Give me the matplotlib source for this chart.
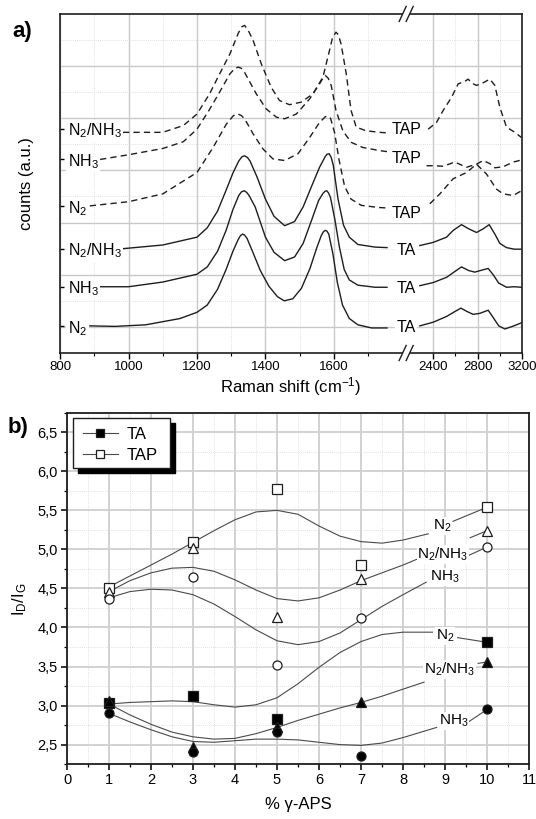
import numpy as np
import matplotlib
matplotlib.use('Agg')
import matplotlib.pyplot as plt
from matplotlib.patches import Rectangle
from matplotlib.ticker import MultipleLocator, FixedLocator, FuncFormatter, NullFormatter

plt.rcParams['font.family'] = ['Liberation Sans', 'DejaVu Sans']
plt.rcParams['mathtext.fontset'] = 'custom'
plt.rcParams['mathtext.rm'] = 'Liberation Sans'
plt.rcParams['mathtext.it'] = 'Liberation Sans:italic'
plt.rcParams['mathtext.bf'] = 'Liberation Sans:bold'
plt.rcParams['mathtext.default'] = 'rm'

# ---------------- panel a: Raman spectra (offset, a.u.) ----------------
ta_n2_x = [887, 960, 1050, 1150, 1200, 1230, 1260, 1285, 1305, 1320, 1327, 1333, 1339, 1346, 1362, 1385,
           1410, 1435, 1455, 1480, 1505, 1530, 1550, 1563, 1569, 1574, 1579, 1585, 1597, 1610, 1625, 1645,
           1670, 1710, 1755,
           2280, 2400, 2520, 2600, 2650, 2700, 2760, 2820, 2895, 2940, 2990, 3045, 3100, 3150, 3195]
ta_n2_y = [0.52, 0.51, 0.54, 0.66, 0.78, 0.92, 1.22, 1.60, 1.95, 2.17, 2.25, 2.28, 2.26, 2.20, 1.95, 1.58,
           1.28, 1.08, 1.00, 1.04, 1.24, 1.62, 2.02, 2.25, 2.32, 2.35, 2.34, 2.28, 1.90, 1.35, 0.92, 0.66,
           0.54, 0.48, 0.48,
           0.52, 0.59, 0.70, 0.80, 0.86, 0.80, 0.74, 0.76, 0.82, 0.68, 0.52, 0.46, 0.50, 0.54, 0.58]

ta_nh3_x = [917, 1000, 1100, 1200, 1230, 1260, 1285, 1305, 1322, 1330, 1338, 1345, 1352, 1370, 1400, 1425,
            1456, 1485, 1510, 1535, 1555, 1568, 1574, 1579, 1584, 1590, 1603, 1616, 1630, 1645, 1670, 1720,
            1755,
            2280, 2400, 2520, 2600, 2655, 2720, 2775, 2840, 2895, 2940, 2990, 3060, 3130, 3195]
ta_nh3_y = [1.27, 1.27, 1.36, 1.51, 1.65, 1.95, 2.35, 2.75, 3.02, 3.09, 3.11, 3.08, 3.02, 2.80, 2.22, 1.93,
            1.77, 1.84, 2.10, 2.55, 2.92, 3.06, 3.10, 3.11, 3.07, 2.98, 2.55, 2.03, 1.60, 1.40, 1.30, 1.26,
            1.26,
            1.29, 1.35, 1.45, 1.57, 1.65, 1.58, 1.55, 1.59, 1.62, 1.50, 1.34, 1.26, 1.27, 1.26]

ta_n2nh3_x = [984, 1100, 1200, 1230, 1260, 1285, 1305, 1322, 1331, 1339, 1347, 1355, 1375, 1400, 1425,
              1456, 1485, 1510, 1535, 1558, 1574, 1580, 1586, 1592, 1598, 1612, 1628, 1645, 1670, 1720, 1755,
              2280, 2400, 2520, 2580, 2655, 2720, 2790, 2850, 2904, 2955, 3000, 3060, 3130, 3195]
ta_n2nh3_y = [2.00, 2.07, 2.22, 2.40, 2.72, 3.12, 3.45, 3.68, 3.76, 3.78, 3.75, 3.68, 3.38, 2.95, 2.62,
              2.44, 2.52, 2.80, 3.20, 3.56, 3.76, 3.81, 3.82, 3.75, 3.60, 2.95, 2.45, 2.22, 2.08, 2.03, 2.02,
              2.06, 2.12, 2.22, 2.35, 2.46, 2.38, 2.31, 2.38, 2.46, 2.28, 2.10, 2.02, 1.99, 1.99]

tap_n2_x = [887, 1000, 1100, 1200, 1247, 1286, 1305, 1313, 1320, 1330, 1340, 1364, 1393, 1422, 1456, 1495,
            1529, 1558, 1575, 1582, 1590, 1602, 1615, 1631, 1650, 1680, 1730, 1755,
            2370, 2460, 2580, 2700, 2790, 2880, 2970, 3030, 3120, 3195]
tap_n2_y = [2.82, 2.90, 3.05, 3.46, 3.94, 4.39, 4.54, 4.58, 4.58, 4.55, 4.48, 4.20, 3.91, 3.72, 3.69, 3.82,
            4.13, 4.42, 4.53, 4.54, 4.50, 4.22, 3.70, 3.20, 2.95, 2.83, 2.79, 2.78,
            2.86, 3.05, 3.34, 3.46, 3.62, 3.43, 3.14, 3.05, 3.02, 3.11]

tap_nh3_x = [917, 1000, 1100, 1160, 1200, 1235, 1266, 1296, 1310, 1320, 1329, 1339, 1373, 1402, 1432, 1456,
             1490, 1529, 1558, 1568, 1575, 1583, 1592, 1606, 1626, 1650, 1684, 1733, 1755,
             2340, 2400, 2490, 2595, 2700, 2790, 2850, 2910, 2955, 3030, 3120, 3195]
tap_nh3_y = [3.71, 3.80, 3.92, 4.05, 4.29, 4.65, 5.00, 5.35, 5.45, 5.48, 5.46, 5.38, 4.97, 4.68, 4.52, 4.49,
             4.58, 4.87, 5.16, 5.27, 5.32, 5.27, 5.13, 4.65, 4.26, 4.04, 3.94, 3.88, 3.86,
             3.59, 3.59, 3.58, 3.66, 3.56, 3.62, 3.69, 3.63, 3.55, 3.57, 3.66, 3.70]

tap_n2nh3_x = [984, 1100, 1160, 1200, 1237, 1266, 1296, 1320, 1330, 1339, 1350, 1364, 1388, 1417, 1441,
               1470, 1505, 1539, 1568, 1587, 1596, 1606, 1613, 1621, 1636, 1650, 1665, 1694, 1733, 1755,
               2355, 2430, 2490, 2565, 2625, 2680, 2715, 2750, 2790, 2850, 2910, 2955, 3000, 3060, 3135, 3195]
tap_n2nh3_y = [4.23, 4.23, 4.36, 4.58, 4.97, 5.35, 5.73, 6.12, 6.25, 6.28, 6.18, 5.99, 5.54, 5.09, 4.84,
               4.76, 4.81, 4.97, 5.29, 5.80, 6.05, 6.15, 6.10, 5.92, 5.35, 4.65, 4.33, 4.26, 4.23, 4.22,
               4.29, 4.42, 4.65, 4.90, 5.16, 5.20, 5.25, 5.17, 5.13, 5.18, 5.25, 5.13, 4.71, 4.33, 4.23, 4.13]

gas_labels = ['N$_2$', 'NH$_3$', 'N$_2$/NH$_3$']
ta_offsets = [0.52, 1.27, 2.00]
tap_offsets = [2.82, 3.72, 4.30]
tap_tag_y = [2.70, 3.76, 4.32]

# ---------------- panel b: I_D/I_G vs % gamma-APS ----------------
pct = [1, 3, 5, 7, 10]
pct_ta_n2 = [1, 3, 5, 10]
ta_n2_ratio = [3.03, 3.12, 2.83, 3.81]
ta_n2nh3_ratio = [3.06, 2.47, 2.72, 3.04, 3.56]
ta_nh3_ratio = [2.91, 2.41, 2.66, 2.35, 2.95]
tap_n2_ratio = [4.50, 5.09, 5.78, 4.80, 5.54]
tap_n2nh3_ratio = [4.46, 5.02, 4.13, 4.62, 5.24]
tap_nh3_ratio = [4.37, 4.65, 3.52, 4.12, 5.03]

# smooth guide curves
fit_x = [1, 1.5, 2, 2.5, 3, 3.5, 4, 4.5, 5, 5.5, 6, 6.5, 7, 7.5, 8]
tap_n2_fit = [4.52, 4.66, 4.80, 4.94, 5.09, 5.24, 5.38, 5.48, 5.50, 5.45, 5.30, 5.17, 5.10, 5.08, 5.12]
tap_n2nh3_fit = [4.46, 4.60, 4.70, 4.76, 4.77, 4.72, 4.61, 4.48, 4.37, 4.34, 4.38, 4.48, 4.60, 4.70, 4.80]
tap_nh3_fit = [4.38, 4.46, 4.49, 4.48, 4.42, 4.30, 4.14, 3.97, 3.83, 3.78, 3.82, 3.93, 4.10, 4.27, 4.42]
ta_n2_fit = [3.02, 3.04, 3.05, 3.06, 3.05, 3.01, 2.98, 3.01, 3.10, 3.28, 3.49, 3.68, 3.82, 3.91, 3.94]
ta_n2nh3_fit = [3.02, 2.88, 2.76, 2.66, 2.60, 2.57, 2.58, 2.64, 2.72, 2.81, 2.89, 2.97, 3.04, 3.12, 3.21]
ta_nh3_fit = [2.90, 2.79, 2.69, 2.60, 2.54, 2.53, 2.55, 2.57, 2.57, 2.56, 2.53, 2.50, 2.49, 2.52, 2.59]
# last point before the label, label position, start of the connector to x = 10
tap_n2_end = [8.6, 5.20]
tap_n2nh3_end = [8.4, 4.89]
tap_nh3_end = [8.55, 4.58]
ta_n2_end = [8.7, 3.94]
ta_n2nh3_end = [8.5, 3.30]
ta_nh3_end = [8.8, 2.72]
tap_n2_tag = [8.93, 5.33, 9.19, 5.36]
tap_n2nh3_tag = [8.95, 4.96, 9.55, 4.92]
tap_nh3_tag = [9.0, 4.68, 9.6, 5.15]
ta_n2_tag = [9.0, 3.92, 9.3, 3.87]
ta_n2nh3_tag = [9.1, 3.49, 9.79, 3.54]
ta_nh3_tag = [9.2, 2.83, 9.5, 2.77]

# broken axis: 800-1810 and 2160-3200 (second part compressed)
BRK_IN = [800, 1810, 2160, 3200]
BRK_OUT = [0, 1010, 1012, 1012 + 1040 * 0.3245]


def fwd(x):
    return np.interp(x, BRK_IN, BRK_OUT)


def inv(u):
    return np.interp(u, BRK_OUT, BRK_IN)


GRID_MAJ = dict(color='#c9c9c9', lw=1.0)
GRID_MIN = dict(color='#d6d6d6', lw=0.6, ls=(0, (1, 1.5)))
INK = '#1e1e1e'

fig = plt.figure(figsize=(5.36, 8.19), dpi=100)
ax1 = fig.add_axes([0.112, 0.569, 0.862, 0.414])
ax2 = fig.add_axes([0.125, 0.067, 0.862, 0.429])

# ---------- panel a ----------
ax1.set_xscale('function', functions=(fwd, inv))
ax1.set_xlim(800, 3200)
ax1.set_ylim(0, 6.5)
ax1.set_axisbelow(True)
ax1.xaxis.set_major_locator(FixedLocator([800, 1000, 1200, 1400, 1600, 2400, 2800, 3200]))
ax1.xaxis.set_minor_locator(FixedLocator([900, 1100, 1300, 1500, 1700, 2600, 3000]))
ax1.xaxis.set_major_formatter(FuncFormatter(lambda v, p: f'{v:.0f}'))
ax1.xaxis.set_minor_formatter(NullFormatter())
ax1.grid(axis='x', which='major', **GRID_MAJ)
ax1.grid(axis='x', which='minor', **GRID_MIN)
for yy in np.arange(0.5, 6.5, 1.0):
    ax1.axhline(yy, zorder=0, **GRID_MAJ)
for yy in np.arange(1.0, 6.5, 1.0):
    ax1.axhline(yy, zorder=0, **GRID_MIN)
ax1.set_yticks(ta_offsets + tap_offsets)
ax1.set_yticklabels([])
ax1.tick_params(axis='y', direction='in', length=3, width=1)
ax1.tick_params(axis='x', which='major', direction='out', length=4, width=1, labelsize=9.5, pad=2)
ax1.tick_params(axis='x', which='minor', direction='out', length=2.5, width=0.8)
for s in ax1.spines.values():
    s.set_linewidth(1.2)
    s.set_color(INK)

series_a = [(ta_n2_x, ta_n2_y, '-'), (ta_nh3_x, ta_nh3_y, '-'), (ta_n2nh3_x, ta_n2nh3_y, '-'),
            (tap_n2_x, tap_n2_y, (0, (4.5, 3))), (tap_nh3_x, tap_nh3_y, (0, (4.5, 3))),
            (tap_n2nh3_x, tap_n2nh3_y, (0, (4.5, 3)))]
for xs, ys, ls in series_a:
    xs = np.asarray(xs)
    ys = np.asarray(ys)
    for m in (xs < 2000, xs > 2000):
        ax1.plot(xs[m], ys[m], color=INK, lw=1.0, ls=ls, zorder=3, solid_joinstyle='round')

lbl_box = dict(fc='white', ec='none', pad=1)
for name, yy in zip(gas_labels, ta_offsets):
    ax1.text(823, yy, name, fontsize=11.5, ha='left', va='center_baseline', bbox=lbl_box, zorder=4)
    ax1.text(0.749, yy, 'TA', fontsize=11.5, ha='center', va='center_baseline',
             transform=ax1.get_yaxis_transform(), bbox=lbl_box, zorder=4)
for name, yy, ty in zip(gas_labels, tap_offsets, tap_tag_y):
    ax1.text(823, yy, name, fontsize=11.5, ha='left', va='center_baseline', bbox=lbl_box, zorder=4)
    ax1.text(0.749, ty, 'TAP', fontsize=11.5, ha='center', va='center_baseline',
             transform=ax1.get_yaxis_transform(), bbox=lbl_box, zorder=4)

# break marks on top and bottom spines
xb = 1011 / BRK_OUT[-1]
dx, dy = 1 / 462, 1 / 339
for yb in (0, 1):
    ax1.add_patch(Rectangle((xb - 3.5 * dx, yb - 3 * dy), 7 * dx, 6 * dy, transform=ax1.transAxes,
                            fc='white', ec='none', clip_on=False, zorder=10))
    for off in (-3.5, 3.5):
        ax1.plot([xb + (off - 3.5) * dx, xb + (off + 3.5) * dx], [yb - 7.5 * dy, yb + 7.5 * dy],
                 transform=ax1.transAxes, color=INK, lw=1.0, clip_on=False, zorder=11)

ax1.set_xlabel('Raman shift (cm$^{-1}$)', fontsize=12)
ax1.xaxis.set_label_coords(0.5, -0.065)
ax1.set_ylabel('counts (a.u.)', fontsize=12)
ax1.yaxis.set_label_coords(-0.056, 0.5)

# ---------- panel b ----------
ax2.set_xlim(0, 11)
ax2.set_ylim(2.25, 6.75)
ax2.set_axisbelow(True)
ax2.xaxis.set_major_locator(MultipleLocator(1))
ax2.xaxis.set_minor_locator(MultipleLocator(0.5))
ax2.yaxis.set_major_locator(MultipleLocator(0.5))
ax2.yaxis.set_minor_locator(MultipleLocator(0.25))
ax2.yaxis.set_major_formatter(FuncFormatter(lambda v, p: f'{v:.1f}'.replace('.', ',')))
ax2.grid(which='major', color='#cfcfcf', lw=1.3)
ax2.grid(which='minor', **GRID_MIN)
ax2.tick_params(which='major', direction='out', length=4.5, width=1.1, labelsize=10.5, pad=2)
ax2.tick_params(which='minor', direction='out', length=2.5, width=0.9)
for s in ax2.spines.values():
    s.set_linewidth(1.3)
    s.set_color(INK)

fits = [(tap_n2_fit, tap_n2_end, tap_n2_tag, tap_n2_ratio[-1], 'N$_2$'),
        (tap_n2nh3_fit, tap_n2nh3_end, tap_n2nh3_tag, tap_nh3_ratio[-1], 'N$_2$/NH$_3$'),
        (tap_nh3_fit, tap_nh3_end, tap_nh3_tag, tap_n2nh3_ratio[-1], 'NH$_3$'),
        (ta_n2_fit, ta_n2_end, ta_n2_tag, ta_n2_ratio[-1], 'N$_2$'),
        (ta_n2nh3_fit, ta_n2nh3_end, ta_n2nh3_tag, ta_n2nh3_ratio[-1], 'N$_2$/NH$_3$'),
        (ta_nh3_fit, ta_nh3_end, ta_nh3_tag, ta_nh3_ratio[-1], 'NH$_3$')]
for fy, end, tag, last, name in fits:
    ax2.plot(fit_x + [end[0]], fy + [end[1]], color='#4a4a4a', lw=0.8, zorder=2, solid_joinstyle='round')
    ax2.plot([tag[2], pct[-1]], [tag[3], last], color='#4a4a4a', lw=0.8, zorder=2)
    ax2.text(tag[0], tag[1], name, fontsize=11, ha='center', va='center_baseline',
             bbox=dict(fc='white', ec='none', pad=0.5), zorder=3)

mk = dict(ms=6.5, ls='none', zorder=5, mec=INK, mew=0.9)
ax2.plot(pct, tap_n2_ratio, 's', mfc='white', **mk)
ax2.plot(pct, tap_n2nh3_ratio, '^', mfc='white', **mk)
ax2.plot(pct, tap_nh3_ratio, 'o', mfc='white', **mk)
ax2.plot(pct_ta_n2, ta_n2_ratio, 's', mfc='black', **mk)
ax2.plot(pct, ta_n2nh3_ratio, '^', mfc='black', **mk)
ax2.plot(pct, ta_nh3_ratio, 'o', mfc='black', **mk)

# legend box with solid drop shadow
lx, ly, lw_, lh = 0.013, 0.843, 0.210, 0.143
ax2.add_patch(Rectangle((lx + 0.011, ly - 0.014), lw_, lh, transform=ax2.transAxes,
                        fc='black', ec='black', zorder=8))
ax2.add_patch(Rectangle((lx, ly), lw_, lh, transform=ax2.transAxes,
                        fc='white', ec=INK, lw=1.0, zorder=9))
for yy, face, name in ((0.943, 'black', 'TA'), (0.883, 'white', 'TAP')):
    ax2.plot([0.035, 0.110], [yy, yy], transform=ax2.transAxes, color='#4a4a4a', lw=0.8, zorder=10)
    ax2.plot([0.0725], [yy], 's', transform=ax2.transAxes, ms=6, mfc=face, mec=INK, mew=0.9, zorder=11)
    ax2.text(0.130, yy, name, transform=ax2.transAxes, fontsize=12, ha='left', va='center_baseline',
             zorder=11)

ax2.set_xlabel('% \u03b3-APS', fontsize=12)
ax2.xaxis.set_label_coords(0.5, -0.094)
ax2.set_ylabel('I$_D$/I$_G$', fontsize=12)
ax2.yaxis.set_label_coords(-0.082, 0.47)

fig.text(0.024, 0.955, 'a)', fontsize=16, fontweight='bold', va='baseline')
fig.text(0.014, 0.471, 'b)', fontsize=16, fontweight='bold', va='baseline')

fig.savefig('out.png', dpi=100)
